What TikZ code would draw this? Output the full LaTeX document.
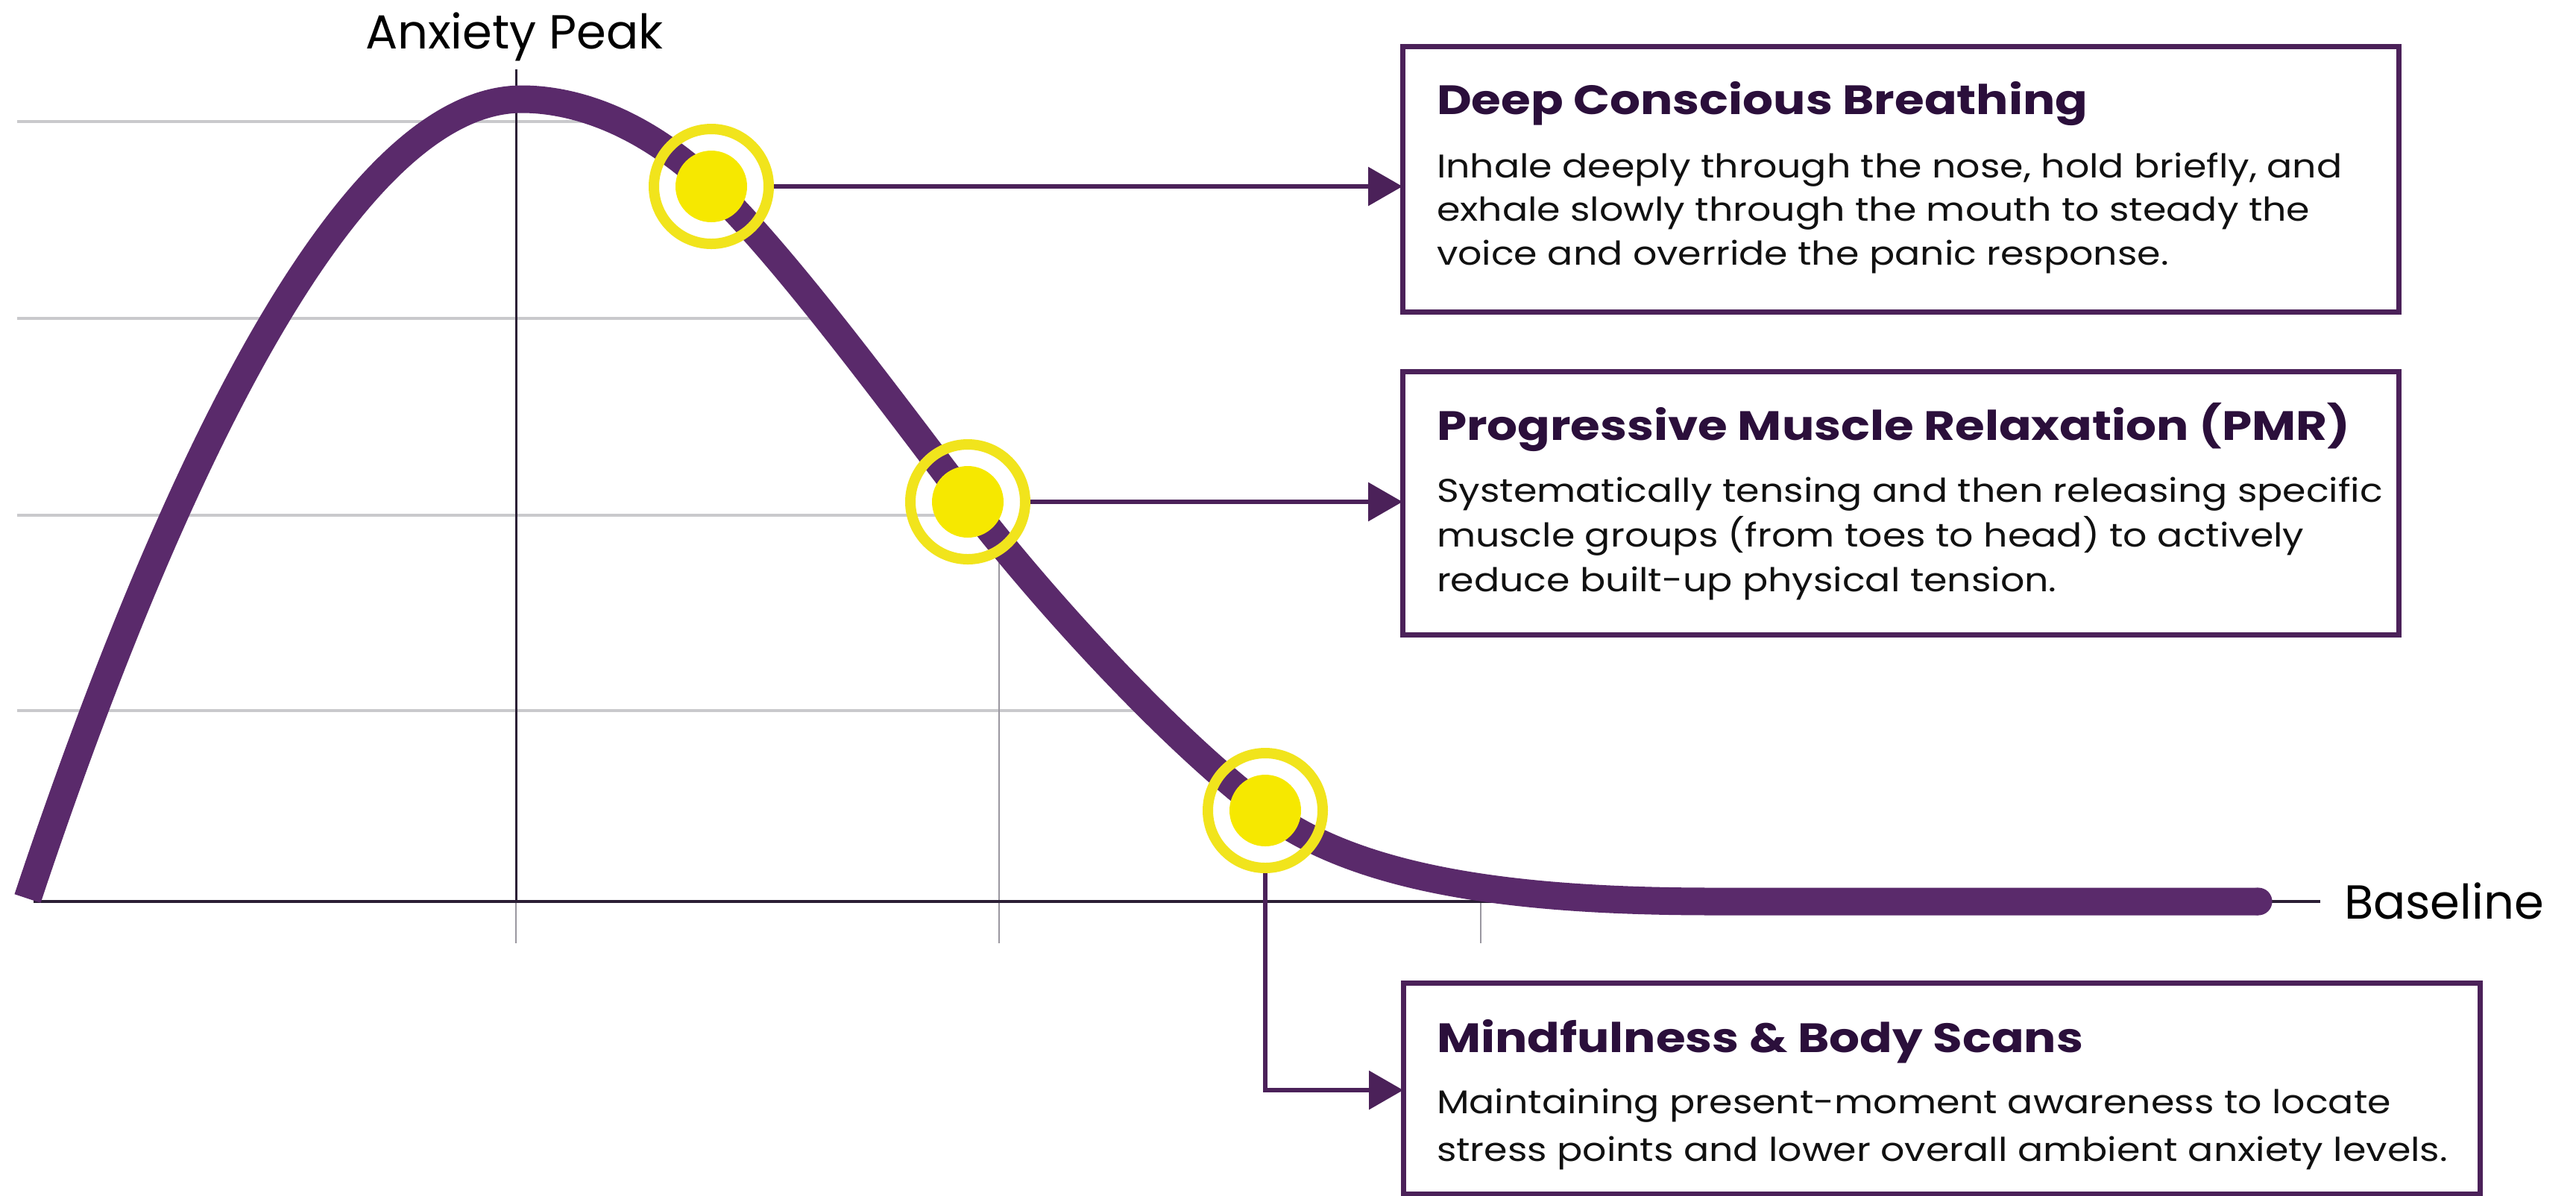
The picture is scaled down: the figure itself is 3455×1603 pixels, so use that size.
\documentclass[tikz,border=0pt]{standalone}
\usepackage{fontspec}
\setmainfont{Poppins}
\newfontfamily\bodyfam[FakeStretch=1.15]{Poppins}
\newfontfamily\ttlfam[FakeStretch=1.17]{Poppins}
\usetikzlibrary{arrows.meta}
\definecolor{curvec}{HTML}{5A2A6B}
\definecolor{boxc}{HTML}{4B2159}
\definecolor{titlec}{HTML}{2B0F3B}
\definecolor{axisc}{HTML}{2B1F35}
\definecolor{gridc}{HTML}{C9C9CC}
\definecolor{vgridc}{HTML}{9A97A0}
\definecolor{yel}{HTML}{F6E800}
\definecolor{ringc}{HTML}{F1E41C}
\definecolor{bodyc}{HTML}{111111}
\tikzset{
  hgrid/.style={draw=gridc, line width=0.9pt},
  vgrid/.style={draw=vgridc, line width=0.4pt},
  ring/.style={circle, draw=ringc, line width=2.8pt, minimum size=30.8pt, inner sep=0pt},
  yeldot/.style={circle, fill=yel, minimum size=19.2pt, inner sep=0pt},
  conn/.style={draw=boxc, line width=1.3pt, -{Triangle[length=9.2pt,width=10.2pt]}},
  infobox/.style={draw=boxc, line width=1.4pt, fill=white, rectangle, inner sep=0pt, outer sep=0pt, anchor=north west},
  ttl/.style={font=\ttlfam\fontsize{11pt}{13pt}\selectfont\bfseries, text=titlec, inner sep=0pt, anchor=base west},
  bdy/.style={font=\bodyfam\fontsize{8.8pt}{12pt}\selectfont, text=bodyc, inner sep=0pt, anchor=base west},
  lbl/.style={font=\fontsize{12.8pt}{15pt}\selectfont, text=black, inner sep=0pt}
}
\begin{document}
\begin{tikzpicture}[x=0.2pt,y=-0.2pt]
\useasboundingbox (0,0) rectangle (3455,1603);
\fill[white] (0,0) rectangle (3455,1603);
% horizontal grid
\draw[hgrid] (23,163) -- (790,163);
\draw[hgrid] (23,427) -- (1105,427);
\draw[hgrid] (23,691) -- (1310,691);
\draw[hgrid] (23,953) -- (1525,953);
% vertical lines
\draw[draw=axisc, line width=0.6pt] (692,93) -- (692,1209);
\draw[vgrid] (692,1209) -- (692,1265);
\draw[vgrid] (1340,730) -- (1340,1265);
\draw[vgrid] (1986,1190) -- (1986,1265);
% axis
\draw[draw=axisc, line width=0.8pt] (45,1209) -- (3112,1209);
% curve
\draw[draw=curvec, line width=7.4pt, line join=round]
  (37,1205) .. controls (187,755) and (440,133) .. (700,133)
  .. controls (760,133) and (854,155) .. (954,250)
  .. controls (1054,345) and (1208,556) .. (1298,673)
  .. controls (1408,816) and (1577,997) .. (1697,1087)
  .. controls (1827,1185) and (2050,1209) .. (2300,1209)
  -- (3029,1209);
\fill[curvec] (3029,1209) circle (3.7pt);
% labels
\node[lbl, anchor=base] (peak) at (690,65) {Anxiety Peak};
\node[lbl, anchor=base west] (baseline) at (3143,1232) {Baseline};
% boxes
\node[infobox, minimum width=267.2pt, minimum height=71.2pt] (b1) at (1881,62) {};
\node[infobox, minimum width=267.2pt, minimum height=70.6pt] (b2) at (1881,498) {};
\node[infobox, minimum width=288.8pt, minimum height=56.6pt] (b3) at (1882,1318) {};
% box texts
\node[ttl] (b1t) at (1926,153) {Deep Conscious Breathing};
\node[bdy] (b1a) at (1926,238) {Inhale deeply through the nose, hold briefly, and};
\node[bdy] (b1b) at (1926,296) {exhale slowly through the mouth to steady the};
\node[bdy] (b1c) at (1926,355) {voice and override the panic response.};
\node[ttl] (b2t) at (1926,590) {Progressive Muscle Relaxation (PMR)};
\node[bdy] (b2a) at (1926,673) {Systematically tensing and then releasing specific};
\node[bdy] (b2b) at (1926,733) {muscle groups (from toes to head) to actively};
\node[bdy] (b2c) at (1926,793) {reduce built-up physical tension.};
\node[ttl] (b3t) at (1926,1411) {Mindfulness \& Body Scans};
\node[bdy] (b3a) at (1926,1493) {Maintaining present-moment awareness to locate};
\node[bdy] (b3b) at (1926,1557) {stress points and lower overall ambient anxiety levels.};
% points
\node[ring] (p1) at (954,250) {};
\node[yeldot] (d1) at (p1) {};
\node[ring] (p2) at (1298,673) {};
\node[yeldot] (d2) at (p2) {};
\node[ring] (p3) at (1697,1087) {};
\node[yeldot] (d3) at (p3) {};
% connectors
\draw[conn] (p1.east) -- (b1.west |- p1.east);
\draw[conn] (p2.east) -- (b2.west |- p2.east);
\coordinate (c3) at (1697,1462);
\draw[conn] (p3.south) -- (c3) -- (b3.west |- c3);
\end{tikzpicture}
\end{document}
